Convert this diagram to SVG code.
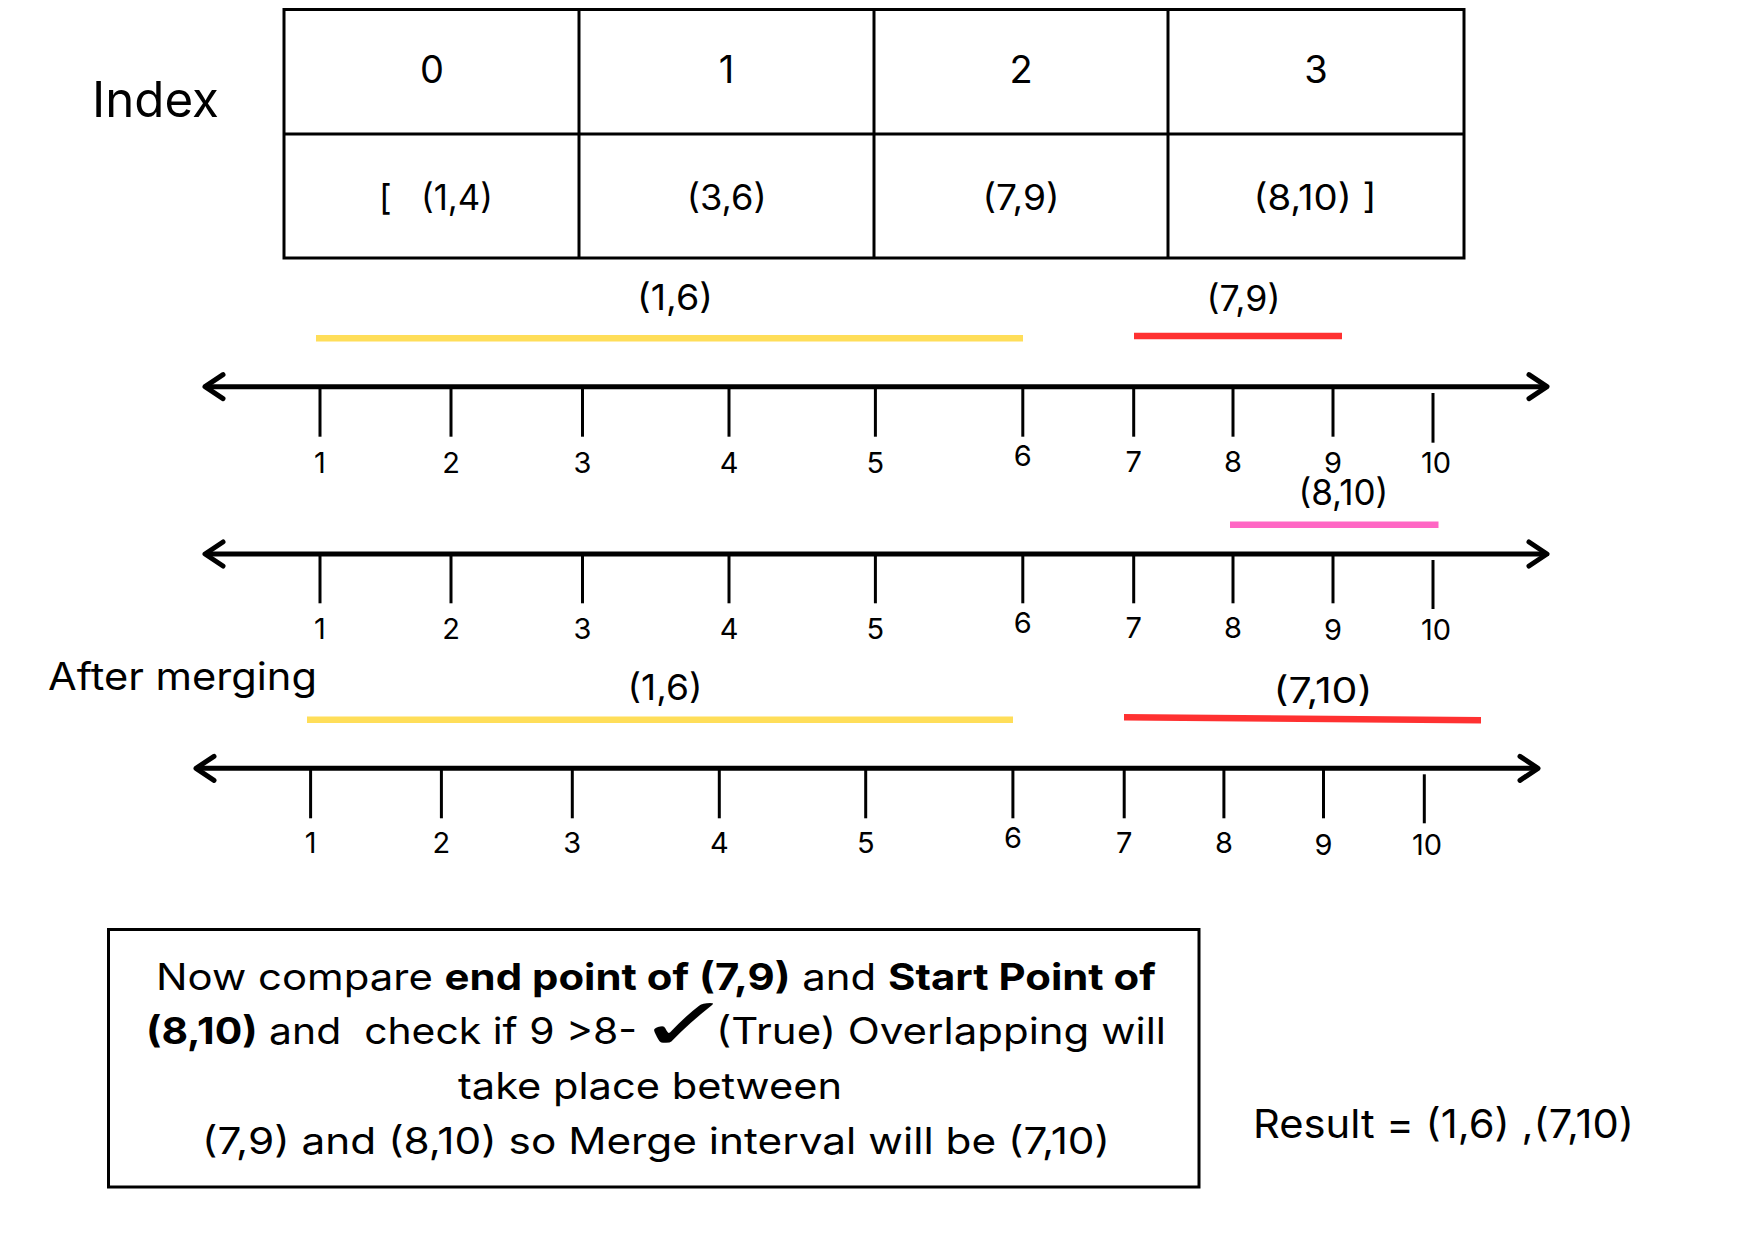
<svg xmlns="http://www.w3.org/2000/svg" width="1748" height="1240" viewBox="0 0 1748 1240">
<style>
text{font-family:Inter,"Liberation Sans",sans-serif;fill:#000}
.grid{stroke:#000;stroke-width:3;fill:none}
.axis{stroke:#000;stroke-width:5;fill:none}
.tick{stroke:#000;stroke-width:3}
.tl{font-size:29px;text-anchor:middle}
.lab{font-size:35px;text-anchor:middle}
.idx{font-size:38px;text-anchor:middle}
.body{font-size:37px}
.bar{stroke-width:6.5;fill:none}
.b{font-weight:700}
</style>
<defs>
<marker id="chev" viewBox="-24 -16 28 32" markerWidth="28" markerHeight="32" refX="0" refY="0" markerUnits="userSpaceOnUse" orient="auto-start-reverse">
<path d="M-18,-12 L0,0 L-18,12" fill="none" stroke="#000" stroke-width="5" stroke-linecap="round" stroke-linejoin="round"/>
</marker>
</defs>
<rect width="1748" height="1240" fill="#fff"/>

<g id="index-label"><text x="92" y="117" font-size="49" textLength="127" lengthAdjust="spacingAndGlyphs">Index</text></g>

<g id="table">
<rect class="grid" x="284" y="9.5" width="1180" height="248.5"/>
<line class="grid" x1="284" y1="134" x2="1464" y2="134"/>
<line class="grid" x1="579" y1="9.5" x2="579" y2="258"/>
<line class="grid" x1="874" y1="9.5" x2="874" y2="258"/>
<line class="grid" x1="1168" y1="9.5" x2="1168" y2="258"/>
<text class="idx" x="432" y="83">0</text>
<text class="idx" x="726.5" y="83">1</text>
<text class="idx" x="1021" y="83">2</text>
<text class="idx" x="1316" y="83">3</text>
<text class="lab" x="436" y="210" xml:space="preserve" textLength="114" lengthAdjust="spacingAndGlyphs">[   (1,4)</text>
<text class="lab" x="726.7" y="210" textLength="80" lengthAdjust="spacingAndGlyphs">(3,6)</text>
<text class="lab" x="1021" y="210" textLength="77" lengthAdjust="spacingAndGlyphs">(7,9)</text>
<text class="lab" x="1315" y="210" xml:space="preserve" textLength="123" lengthAdjust="spacingAndGlyphs">(8,10) ]</text>
</g>

<g id="numberline-1">
<line class="bar" x1="316" y1="338.3" x2="1023" y2="338.3" stroke="#FFDE59"/>
<line class="bar" x1="1134" y1="336" x2="1342" y2="336" stroke="#FF3131"/>
<text class="lab" x="675" y="310" textLength="76" lengthAdjust="spacingAndGlyphs">(1,6)</text>
<text class="lab" x="1243.5" y="310.5" textLength="74" lengthAdjust="spacingAndGlyphs">(7,9)</text>
<line class="axis" x1="205" y1="386.7" x2="1547" y2="386.7" marker-start="url(#chev)" marker-end="url(#chev)"/>
<g class="tick">
<line x1="320" y1="386.7" x2="320" y2="436.7"/><line x1="451" y1="386.7" x2="451" y2="436.7"/><line x1="582.5" y1="386.7" x2="582.5" y2="436.7"/><line x1="729" y1="386.7" x2="729" y2="436.7"/><line x1="875.4" y1="386.7" x2="875.4" y2="436.7"/><line x1="1022.8" y1="386.7" x2="1022.8" y2="436.7"/><line x1="1133.7" y1="386.7" x2="1133.7" y2="436.7"/><line x1="1233" y1="386.7" x2="1233" y2="436.7"/><line x1="1333" y1="386.7" x2="1333" y2="436.7"/><line x1="1433" y1="393" x2="1433" y2="442.7"/>
</g>
<text class="tl" x="320" y="472.7">1</text><text class="tl" x="451" y="472.7">2</text><text class="tl" x="582.5" y="472.7">3</text><text class="tl" x="729" y="472.7">4</text><text class="tl" x="875.4" y="472.7">5</text><text class="tl" x="1022.8" y="466">6</text><text class="tl" x="1133.7" y="471.7">7</text><text class="tl" x="1233" y="471.7">8</text><text class="tl" x="1333" y="472.7">9</text><text class="tl" x="1436" y="472.7">10</text>
</g>

<g id="numberline-2">
<text class="lab" x="1343.4" y="505" textLength="90" lengthAdjust="spacingAndGlyphs">(8,10)</text>
<line class="bar" x1="1230" y1="524.7" x2="1438.5" y2="524.7" stroke="#FF66C4"/>
<line class="axis" x1="205" y1="554" x2="1547" y2="554" marker-start="url(#chev)" marker-end="url(#chev)"/>
<g class="tick">
<line x1="320" y1="554" x2="320" y2="603.3"/><line x1="451" y1="554" x2="451" y2="603.3"/><line x1="582.5" y1="554" x2="582.5" y2="603.3"/><line x1="729" y1="554" x2="729" y2="603.3"/><line x1="875.4" y1="554" x2="875.4" y2="603.3"/><line x1="1022.8" y1="554" x2="1022.8" y2="603.3"/><line x1="1133.7" y1="554" x2="1133.7" y2="603.3"/><line x1="1233" y1="554" x2="1233" y2="603.3"/><line x1="1333" y1="554" x2="1333" y2="603.3"/><line x1="1433" y1="560" x2="1433" y2="609"/>
</g>
<text class="tl" x="320" y="639">1</text><text class="tl" x="451" y="639">2</text><text class="tl" x="582.5" y="639">3</text><text class="tl" x="729" y="639">4</text><text class="tl" x="875.4" y="639">5</text><text class="tl" x="1022.8" y="633">6</text><text class="tl" x="1133.7" y="638.3">7</text><text class="tl" x="1233" y="638.3">8</text><text class="tl" x="1333" y="640">9</text><text class="tl" x="1436" y="640">10</text>
</g>

<g id="after-merging-label"><text x="48" y="690" font-size="38" textLength="269" lengthAdjust="spacingAndGlyphs">After merging</text></g>

<g id="numberline-3">
<text class="lab" x="665" y="700" textLength="75" lengthAdjust="spacingAndGlyphs">(1,6)</text>
<text class="lab" x="1323" y="703" textLength="99" lengthAdjust="spacingAndGlyphs">(7,10)</text>
<line class="bar" x1="307" y1="719.7" x2="1013" y2="719.7" stroke="#FFDE59"/>
<line class="bar" x1="1124" y1="717.3" x2="1481" y2="720.3" stroke="#FF3131"/>
<line class="axis" x1="196" y1="768.3" x2="1538" y2="768.3" marker-start="url(#chev)" marker-end="url(#chev)"/>
<g class="tick">
<line x1="310.6" y1="768.3" x2="310.6" y2="818.3"/><line x1="441.4" y1="768.3" x2="441.4" y2="818.3"/><line x1="572.3" y1="768.3" x2="572.3" y2="818.3"/><line x1="719.3" y1="768.3" x2="719.3" y2="818.3"/><line x1="865.7" y1="768.3" x2="865.7" y2="818.3"/><line x1="1012.9" y1="768.3" x2="1012.9" y2="818.3"/><line x1="1124.2" y1="768.3" x2="1124.2" y2="818.3"/><line x1="1223.9" y1="768.3" x2="1223.9" y2="818.3"/><line x1="1323.5" y1="768.3" x2="1323.5" y2="818.3"/><line x1="1424.3" y1="774.3" x2="1424.3" y2="823.3"/>
</g>
<text class="tl" x="310.6" y="853.3">1</text><text class="tl" x="441.4" y="853.3">2</text><text class="tl" x="572.3" y="853.3">3</text><text class="tl" x="719.3" y="853.3">4</text><text class="tl" x="865.7" y="853.3">5</text><text class="tl" x="1012.9" y="848.3">6</text><text class="tl" x="1124.2" y="853.3">7</text><text class="tl" x="1223.9" y="853.3">8</text><text class="tl" x="1323.5" y="855">9</text><text class="tl" x="1427" y="855">10</text>
</g>

<g id="explanation-box">
<rect class="grid" x="108.5" y="929.5" width="1090.5" height="257.5"/>
<text class="body" x="156" y="990" textLength="1000" lengthAdjust="spacingAndGlyphs">Now compare <tspan class="b">end point of (7,9)</tspan> and <tspan class="b">Start Point of</tspan></text>
<text class="body" x="146" y="1044" xml:space="preserve" textLength="491" lengthAdjust="spacingAndGlyphs"><tspan class="b">(8,10)</tspan> and  check if 9 &gt;8-</text>
<text transform="translate(637,1050) scale(1.5,0.98)" x="0" y="0" font-size="76" font-weight="700" style="font-family:'DejaVu Sans',sans-serif">✓</text>
<text class="body" x="716" y="1044" textLength="450" lengthAdjust="spacingAndGlyphs">(True) Overlapping will</text>
<text class="body" x="458" y="1099" textLength="384" lengthAdjust="spacingAndGlyphs">take place between</text>
<text class="body" x="202" y="1154" textLength="908" lengthAdjust="spacingAndGlyphs">(7,9) and (8,10) so Merge interval will be (7,10)</text>
</g>

<g id="result"><text x="1253" y="1138" font-size="39" textLength="381" lengthAdjust="spacingAndGlyphs">Result = (1,6) ,(7,10)</text></g>
</svg>
